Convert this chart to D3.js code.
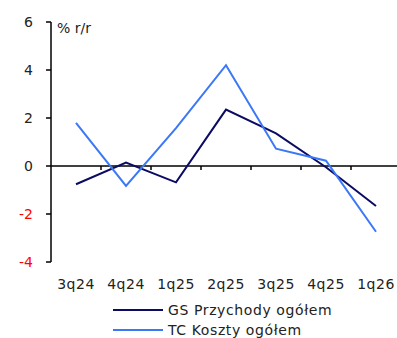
<!DOCTYPE html>
<html>
<head>
<meta charset="utf-8">
<script src="https://cdn.jsdelivr.net/npm/d3@7"></script>
<style>
  body { margin: 0; background: #fff; }
  svg text { font-family: "DejaVu Sans", sans-serif; }
</style>
</head>
<body>
<svg id="chart" width="397" height="338"></svg>
<script>
// data
var categories = ['3q24', '4q24', '1q25', '2q25', '3q25', '4q25', '1q26']
var gsValues = [-0.76, 0.14, -0.68, 2.35, 1.36, -0.05, -1.67]   // GS Przychody ogółem
var tcValues = [1.8, -0.83, 1.58, 4.2, 0.72, 0.22, -2.74]       // TC Koszty ogółem
var yTicks = [-4, -2, 0, 2, 4, 6]
var seriesNames = ['GS Przychody ogółem', 'TC Koszty ogółem']

var gsColor = '#0b0b63'
var tcColor = '#3b78f7'
var textColor = '#222'

var svg = d3.select('#chart')

// plot box (window.top is read-only, so no "top" here)
var plotLeft = 51, plotRight = 401, plotTop = 22, plotBottom = 262

var x = d3.scaleBand().domain(categories).range([plotLeft, plotRight])
var y = d3.scaleLinear().domain([-4, 6]).range([plotBottom, plotTop])

// y axis
var yAxis = svg.append('g').attr('transform', `translate(${plotLeft},0)`)
yAxis.append('line')
	.attr('x1', 0).attr('x2', 0)
	.attr('y1', y(6)).attr('y2', y(-4))
	.attr('stroke', 'black').attr('stroke-width', 1.5)
yTicks.forEach(function (t) {
	yAxis.append('line')
		.attr('x1', -5).attr('x2', 0)
		.attr('y1', y(t)).attr('y2', y(t))
		.attr('stroke', 'black').attr('stroke-width', 1.5)
	yAxis.append('text')
		.attr('x', -18).attr('y', y(t) + 5)
		.attr('text-anchor', 'end')
		.attr('font-size', 14)
		.attr('fill', t < 0 ? '#ff0000' : textColor)
		.text(t)
})

// x axis at zero
var xAxis = svg.append('g').attr('transform', `translate(0,${y(0)})`)
xAxis.append('line')
	.attr('x1', plotLeft).attr('x2', plotRight)
	.attr('stroke', 'black').attr('stroke-width', 1.5)
categories.forEach(function (c, i) {
	if (i > 0) {
		xAxis.append('line')
			.attr('x1', x(c)).attr('x2', x(c))
			.attr('y1', 0).attr('y2', 4)
			.attr('stroke', 'black').attr('stroke-width', 1.5)
	}
	svg.append('text')
		.attr('x', x(c) + x.bandwidth() / 2)
		.attr('y', 289)
		.attr('text-anchor', 'middle')
		.attr('font-size', 14)
		.attr('letter-spacing', 0.5)
		.attr('fill', textColor)
		.text(c)
})

svg.append('text')
	.attr('x', 57).attr('y', 33)
	.attr('font-size', 14)
	.attr('fill', textColor)
	.text('% r/r')

var line = d3.line()
	.x(function (d, i) { return x(categories[i]) + x.bandwidth() / 2 })
	.y(function (d) { return y(d) })

svg.append('path')
	.datum(gsValues)
	.attr('d', line)
	.attr('fill', 'none')
	.attr('stroke', gsColor)
	.attr('stroke-width', 2)

svg.append('path')
	.datum(tcValues)
	.attr('d', line)
	.attr('fill', 'none')
	.attr('stroke', tcColor)
	.attr('stroke-width', 2)

// legend
var legendColors = [gsColor, tcColor]
seriesNames.forEach(function (name, i) {
	var ly = 310 + i * 20
	svg.append('line')
		.attr('x1', 113).attr('x2', 163)
		.attr('y1', ly).attr('y2', ly)
		.attr('stroke', legendColors[i]).attr('stroke-width', 2)
	svg.append('text')
		.attr('x', 168).attr('y', ly + 5)
		.attr('font-size', 14)
		.attr('letter-spacing', 0.6)
		.attr('fill', textColor)
		.text(name)
})
</script>
</body>
</html>
